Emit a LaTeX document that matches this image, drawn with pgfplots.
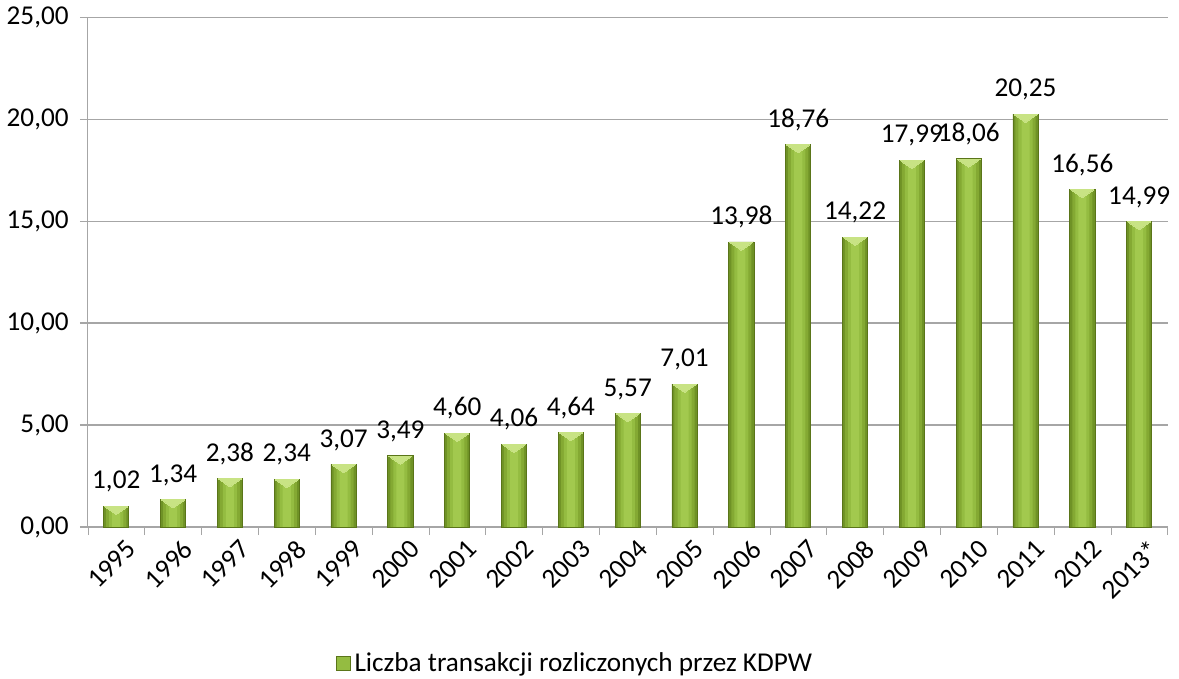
\documentclass[border=0pt]{standalone}
\usepackage{pgfplots}
\usepackage{pgfplotstable}
\pgfplotsset{compat=1.18}
\usepackage{fontspec}
\setmainfont{Carlito}
\definecolor{gridc}{HTML}{A6A6A6}
\definecolor{barA}{HTML}{6F9226}
\definecolor{barB}{HTML}{84A933}
\definecolor{barC}{HTML}{94BC41}
\definecolor{barD}{HTML}{A2C94E}
\definecolor{barline}{HTML}{5A7519}
\definecolor{bevel}{HTML}{C8E384}
\pgfplotstableread{
x y
0 1.02
1 1.34
2 2.38
3 2.34
4 3.07
5 3.49
6 4.60
7 4.06
8 4.64
9 5.57
10 7.01
11 13.98
12 18.76
13 14.22
14 17.99
15 18.06
16 20.25
17 16.56
18 14.99
}\data
\begin{document}
\begin{tikzpicture}
\begin{axis}[
  scale only axis,
  width=536pt, height=253pt,
  xmin=-0.5, xmax=18.5,
  ymin=0, ymax=25,
  ytick={0,5,10,15,20,25},
  xtick={0,...,18},
  xticklabels={1995,1996,1997,1998,1999,2000,2001,2002,2003,2004,2005,2006,2007,2008,2009,2010,2011,2012,2013*},
  x tick style={draw=none},
  extra x ticks={-0.5,0.5,...,18.5},
  extra x tick labels={},
  extra x tick style={grid=none, x tick style={draw=gridc}, tick align=outside, major tick length=4pt},
  ymajorgrids,
  grid style={gridc, line width=0.6pt},
  axis line style={gridc, line width=0.6pt},
  axis x line*=bottom,
  axis y line*=left,
  y tick style={gridc, line width=0.6pt},
  tick align=outside,
  major tick length=4pt,
  clip=false,
  /pgf/number format/.cd, use comma, fixed, fixed zerofill, precision=2, assume math mode=true,
  /pgfplots/.cd,
  tick label style={font=\fontsize{13.5}{15}\selectfont, black},
  xticklabel style={rotate=45, anchor=north east, inner sep=1pt, xshift=3pt, yshift=-3pt},
  yticklabel style={xshift=-2pt},
  ybar,
  bar shift=0pt,
  legend style={at={(0.452,-0.268)}, anchor=center, draw=none, font=\fontsize{13.5}{15}\selectfont, inner sep=0pt},
  legend image code/.code={\draw[barline, fill=barC] (0pt,-3.5pt) rectangle (7pt,3.5pt);},
]
\addplot[draw=barline, line width=0.4pt, fill=barA, bar width=12.5pt] table[x=x,y=y] {\data};
\addlegendentry{Liczba transakcji rozliczonych przez KDPW}
\addplot[draw=none, fill=barB, bar width=10pt, forget plot] table[x=x,y expr=\thisrow{y}-0.04] {\data};
\addplot[draw=none, fill=barC, bar width=7pt, forget plot] table[x=x,y expr=\thisrow{y}-0.04] {\data};
\addplot[draw=none, fill=barD, bar width=4pt, forget plot] table[x=x,y expr=\thisrow{y}-0.04] {\data};
\addplot[only marks, forget plot, draw=bevel, fill=bevel, mark=triangle*, mark size=6.6pt,
  mark options={draw=bevel, fill=bevel, line width=0pt, yshift=-1.5pt, rotate=180, yscale=0.4},
  nodes near coords, point meta=explicit,
  every node near coord/.append style={font=\fontsize{13.5}{15}\selectfont, black, yshift=5pt}]
  table[x=x, y=y, meta=y] {\data};
\end{axis}
\end{tikzpicture}
\end{document}
